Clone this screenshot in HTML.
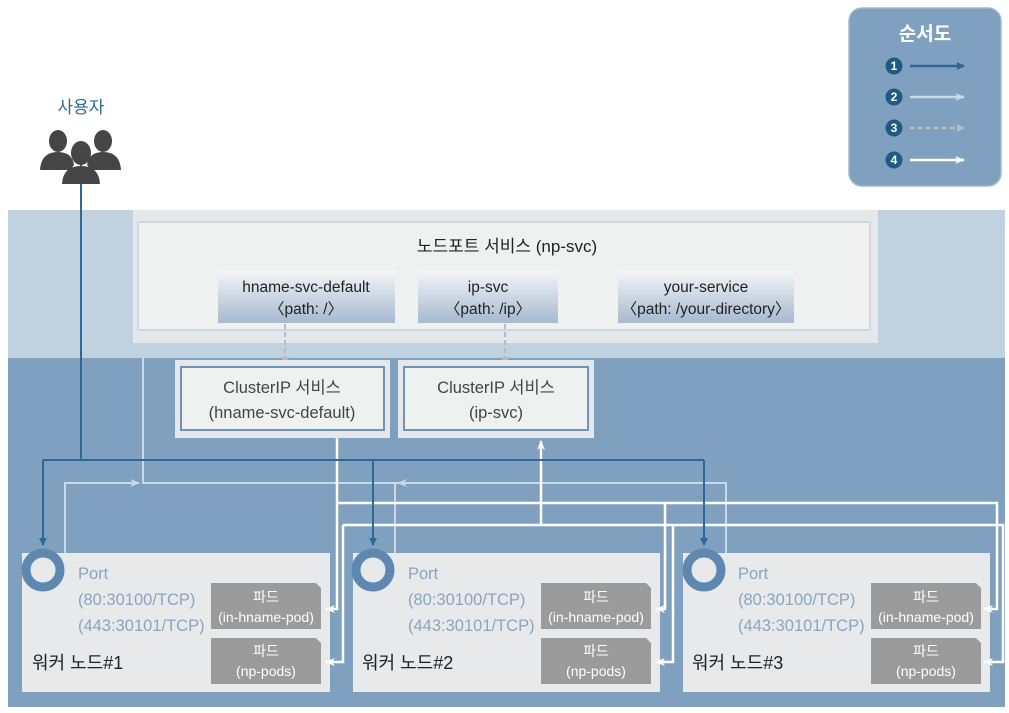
<!DOCTYPE html>
<html><head><meta charset="utf-8"><style>
html,body{margin:0;padding:0;background:#fff}
svg{display:block}
text{font-family:"Liberation Sans","Noto Sans CJK KR",sans-serif}
</style></head><body>
<svg width="1009" height="713" viewBox="0 0 1009 713" xmlns="http://www.w3.org/2000/svg">
<defs>
<linearGradient id="g" x1="0" y1="0" x2="0" y2="1"><stop offset="0" stop-color="#f4f6f8"/><stop offset="1" stop-color="#a6b9cf"/></linearGradient>
<marker id="ab" markerWidth="8" markerHeight="8" refX="7" refY="4" orient="auto" markerUnits="userSpaceOnUse"><path d="M0,0L8,4L0,8z" fill="#2f6795"/></marker>
<marker id="al" markerWidth="10" markerHeight="8" refX="9" refY="4" orient="auto" markerUnits="userSpaceOnUse"><path d="M0,0L10,4L0,8L3,4z" fill="#c9d9e7"/></marker>
<marker id="aw" markerWidth="10" markerHeight="8" refX="9" refY="4" orient="auto" markerUnits="userSpaceOnUse"><path d="M0,0L10,4L0,8L3,4z" fill="#fff"/></marker>
<marker id="ad" markerWidth="8" markerHeight="8" refX="7" refY="4" orient="auto" markerUnits="userSpaceOnUse"><path d="M0,0L8,4L0,8z" fill="#b4bcc4"/></marker>
</defs>
<rect x="8" y="210" width="997" height="148" fill="#c0d1df"/>
<rect x="8" y="358" width="997" height="349" fill="#7fa1bf"/>
<rect x="133" y="210" width="745" height="133" fill="#e4e8eb"/>
<rect x="138" y="222" width="732" height="108" fill="#eff1f1" stroke="#cfd8df" stroke-width="2"/>
<text x="507" y="252" font-size="17" text-anchor="middle" fill="#222">노드포트 서비스 (np-svc)</text>
<rect x="218" y="270" width="177" height="53" fill="url(#g)"/>
<rect x="418" y="270" width="140" height="53" fill="url(#g)"/>
<rect x="618" y="270" width="176" height="53" fill="url(#g)"/>
<g font-size="15.5" text-anchor="middle" fill="#222">
<text x="306" y="292">hname-svc-default</text><text x="306" y="314">〈path: /〉</text>
<text x="488" y="292">ip-svc</text><text x="488" y="314">〈path: /ip〉</text>
<text x="706" y="292">your-service</text><text x="706" y="314">〈path: /your-directory〉</text>
</g>
<line x1="285" y1="324" x2="285" y2="364" stroke="#b4bcc4" stroke-width="2" stroke-dasharray="5,3" marker-end="url(#ad)"/>
<line x1="505" y1="324" x2="505" y2="364" stroke="#b4bcc4" stroke-width="2" stroke-dasharray="5,3" marker-end="url(#ad)"/>
<rect x="175" y="360" width="215" height="78" fill="#e4e8eb"/>
<rect x="181" y="367" width="203" height="63" fill="#eff1f1" stroke="#6f93b5" stroke-width="2"/>
<rect x="398" y="360" width="196" height="78" fill="#e4e8eb"/>
<rect x="404" y="367" width="184" height="63" fill="#eff1f1" stroke="#6f93b5" stroke-width="2"/>
<g font-size="16.5" text-anchor="middle" fill="#444">
<text x="282" y="393">ClusterIP 서비스</text><text x="282" y="418">(hname-svc-default)</text>
<text x="496" y="393">ClusterIP 서비스</text><text x="496" y="418">(ip-svc)</text>
</g>
<g fill="#e7e9ea"><rect x="22" y="553" width="308" height="139"/><rect x="353" y="553" width="307" height="139"/><rect x="683" y="553" width="307" height="139"/></g>
<g stroke="#c9d9e7" stroke-width="2" fill="none">
<polyline points="143,358 143,483 726,483 726,553"/>
<polyline points="65,553 65,483 139,483" marker-end="url(#al)"/>
<line x1="395" y1="553" x2="395" y2="483"/>
<line x1="420" y1="483" x2="398" y2="483" marker-end="url(#al)"/>
</g>
<g stroke="#fff" stroke-width="2.5" fill="none">
<polyline points="337,438 337,609 326,609" marker-end="url(#aw)"/>
<polyline points="337,503 997,503 997,609 984,609" marker-end="url(#aw)"/>
<polyline points="665,503 665,609 656,609" marker-end="url(#aw)"/>
<polyline points="343,525 343,662 326,662" marker-end="url(#aw)"/>
<polyline points="343,525 1003,525 1003,662 984,662" marker-end="url(#aw)"/>
<polyline points="673,525 673,662 656,662" marker-end="url(#aw)"/>
<line x1="541" y1="525" x2="541" y2="441" marker-end="url(#aw)"/>
</g>
<g stroke="#2f6795" stroke-width="2" fill="none">
<polyline points="81,160 81,460"/>
<line x1="43" y1="460" x2="704" y2="460"/>
<line x1="43" y1="460" x2="43" y2="545" marker-end="url(#ab)"/>
<line x1="373" y1="460" x2="373" y2="545" marker-end="url(#ab)"/>
<line x1="704" y1="460" x2="704" y2="545" marker-end="url(#ab)"/>
</g>
<g fill="#e7e9ea" stroke="#5f88b0" stroke-width="9">
<circle cx="43" cy="570" r="17"/><circle cx="373" cy="570" r="17"/><circle cx="704" cy="570" r="17"/>
</g>
<g font-size="16.5" fill="#8aa5c0">
<text x="78" y="579">Port</text><text x="78" y="605">(80:30100/TCP)</text><text x="78" y="631">(443:30101/TCP)</text>
<text x="408" y="579">Port</text><text x="408" y="605">(80:30100/TCP)</text><text x="408" y="631">(443:30101/TCP)</text>
<text x="738" y="579">Port</text><text x="738" y="605">(80:30100/TCP)</text><text x="738" y="631">(443:30101/TCP)</text>
</g>
<g font-size="18" fill="#222">
<text x="32" y="669">워커 노드#1</text><text x="362" y="669">워커 노드#2</text><text x="692" y="669">워커 노드#3</text>
</g>
<g fill="#9b9b9b">
<path d="M211,583H316L321,588V629H211z"/><path d="M211,638H316L321,643V684H211z"/>
<path d="M541,583H646L651,588V629H541z"/><path d="M541,638H646L651,643V684H541z"/>
<path d="M871,583H976L981,588V629H871z"/><path d="M871,638H976L981,643V684H871z"/>
</g>
<g font-size="14" fill="#fff" text-anchor="middle">
<text x="266" y="602">파드</text><text x="266" y="622">(in-hname-pod)</text><text x="266" y="656">파드</text><text x="266" y="676">(np-pods)</text>
<text x="596" y="602">파드</text><text x="596" y="622">(in-hname-pod)</text><text x="596" y="656">파드</text><text x="596" y="676">(np-pods)</text>
<text x="926" y="602">파드</text><text x="926" y="622">(in-hname-pod)</text><text x="926" y="656">파드</text><text x="926" y="676">(np-pods)</text>
</g>
<text x="81" y="113" font-size="17" fill="#2d6a95" text-anchor="middle">사용자</text>
<g fill="#454545">
<ellipse cx="58" cy="141" rx="9" ry="11"/><path d="M40,170Q41,152 58,152Q72,152 74,165L70,170z"/>
<ellipse cx="103" cy="141" rx="9" ry="11"/><path d="M121,170Q120,152 103,152Q89,152 87,165L91,170z"/>
<ellipse cx="81" cy="153" rx="10" ry="12"/><path d="M62,184Q63,166 81,166Q99,166 100,184z"/>
</g>
<rect x="849" y="8" width="152" height="178" rx="13" fill="#7fa1bf" stroke="#9fb8cd" stroke-width="1.5"/>
<text x="925" y="40" font-size="19" font-weight="bold" fill="#fff" text-anchor="middle">순서도</text>
<g fill="#1f5a85"><circle cx="894" cy="66" r="8.5"/><circle cx="894" cy="97" r="8.5"/><circle cx="894" cy="128" r="8.5"/><circle cx="894" cy="160" r="8.5"/></g>
<g font-size="12" font-weight="bold" fill="#fff" text-anchor="middle">
<text x="894" y="70">1</text><text x="894" y="101">2</text><text x="894" y="132">3</text><text x="894" y="164">4</text>
</g>
<line x1="910" y1="66" x2="964" y2="66" stroke="#2f6795" stroke-width="2.5" marker-end="url(#ab)"/>
<line x1="910" y1="97" x2="964" y2="97" stroke="#c9d9e7" stroke-width="2.5" marker-end="url(#al)"/>
<line x1="910" y1="128" x2="964" y2="128" stroke="#b4bcc4" stroke-width="2.5" stroke-dasharray="5,3" marker-end="url(#ad)"/>
<line x1="910" y1="160" x2="964" y2="160" stroke="#fff" stroke-width="2.5" marker-end="url(#aw)"/>
</svg>
</body></html>
